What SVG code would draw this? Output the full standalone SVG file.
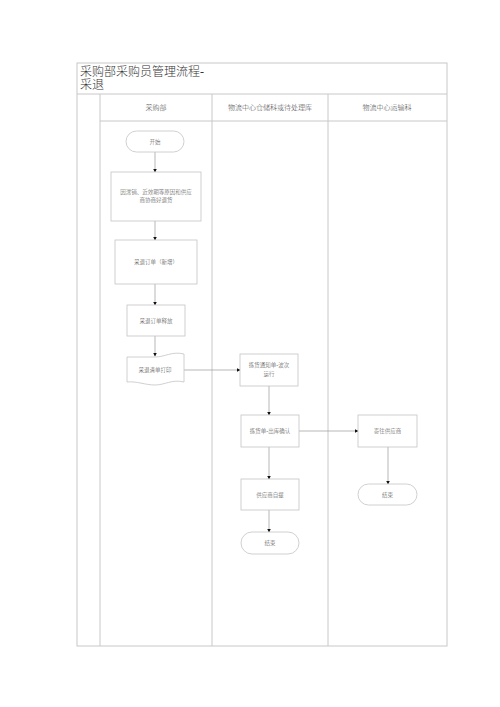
<svg xmlns="http://www.w3.org/2000/svg" width="500" height="707" viewBox="0 0 500 707">
<defs>
<style>
.frame{fill:none;stroke:#c8c8c8;stroke-width:1}
.node{fill:#fff;stroke:#c4c4c4;stroke-width:0.8}
.t{font-family:"Liberation Serif","Noto Sans CJK SC",serif;font-size:5.5px;font-weight:300;fill:#444;text-anchor:middle}
.h{font-family:"Liberation Serif","Noto Sans CJK SC",serif;font-size:7px;font-weight:300;fill:#444;text-anchor:middle}
.title{font-family:"Liberation Serif","Noto Sans CJK SC",serif;font-size:12px;font-weight:300;fill:#333}
.c{fill:none;stroke:#9a9a9a;stroke-width:0.7;marker-end:url(#ah)}
</style>
<marker id="ah" markerWidth="4" markerHeight="4" refX="3.5" refY="2" orient="auto" markerUnits="userSpaceOnUse">
<path d="M0,0 L4,2 L0,4 Z" fill="#111"/>
</marker>
</defs>
<rect width="500" height="707" fill="#fff"/>
<g id="frame">
<rect class="frame" x="77" y="63" width="370" height="583"/>
<line class="frame" x1="77" y1="94" x2="447" y2="94"/>
<line class="frame" x1="100" y1="94" x2="100" y2="646"/>
<line class="frame" x1="100" y1="121" x2="447" y2="121"/>
<line class="frame" x1="212" y1="94" x2="212" y2="646"/>
<line class="frame" x1="328" y1="94" x2="328" y2="646"/>
<text class="title" x="80" y="76">采购部采购员管理流程-</text>
<text class="title" x="80" y="89">采退</text>
<text class="h" x="156" y="110">采购部</text>
<text class="h" x="270" y="110">物流中心仓储科或待处理库</text>
<text class="h" x="387" y="110">物流中心运输科</text>
</g>
<g id="connectors">
<line class="c" x1="155" y1="152" x2="155" y2="172"/>
<line class="c" x1="155" y1="221" x2="155" y2="240"/>
<line class="c" x1="155" y1="284" x2="155" y2="305"/>
<line class="c" x1="155" y1="336" x2="155" y2="356"/>
<line class="c" x1="184" y1="370" x2="240" y2="370"/>
<line class="c" x1="269" y1="386" x2="269" y2="415"/>
<line class="c" x1="299" y1="431" x2="358" y2="431"/>
<line class="c" x1="269" y1="447" x2="269" y2="479"/>
<line class="c" x1="269" y1="510" x2="269" y2="532"/>
<line class="c" x1="388" y1="447" x2="388" y2="484"/>
</g>
<g id="start">
<rect class="node" x="126" y="131" width="58" height="21" rx="10.5"/>
<text class="t" x="155" y="143.5">开始</text>
</g>
<g id="n1">
<rect class="node" x="111" y="172" width="90" height="49"/>
<text class="t" x="156" y="194">因滞销、近效期等原因和供应</text>
<text class="t" x="156" y="202">商协商好退货</text>
</g>
<g id="n2">
<rect class="node" x="115" y="240" width="82" height="44"/>
<text class="t" x="156" y="264">采退订单（新增）</text>
</g>
<g id="n3">
<rect class="node" x="127" y="305" width="58" height="31"/>
<text class="t" x="156" y="322.5">采退订单释放</text>
</g>
<g id="n4">
<path class="node" d="M127,357 L155,357 C165,357 172,351 184,354 L184,382 C172,379 165,385 155,385 C145,385 137,381 127,382 Z"/>
<text class="t" x="155" y="372">采退清单打印</text>
</g>
<g id="n5">
<rect class="node" x="240" y="354" width="58" height="32"/>
<text class="t" x="269" y="367">拣货通知单-波次</text>
<text class="t" x="269" y="376">运行</text>
</g>
<g id="n6">
<rect class="node" x="241" y="415" width="58" height="32"/>
<text class="t" x="270" y="433">拣货单-出库确认</text>
</g>
<g id="n7">
<rect class="node" x="358" y="415" width="59" height="32"/>
<text class="t" x="387.5" y="433">寄往供应商</text>
</g>
<g id="n8">
<rect class="node" x="241" y="479" width="58" height="31"/>
<text class="t" x="270" y="496.5">供应商自提</text>
</g>
<g id="end1">
<rect class="node" x="241" y="532" width="58" height="22" rx="11"/>
<text class="t" x="270" y="545">结束</text>
</g>
<g id="end2">
<rect class="node" x="358" y="484" width="59" height="21" rx="10.5"/>
<text class="t" x="387.5" y="496.5">结束</text>
</g>
</svg>
